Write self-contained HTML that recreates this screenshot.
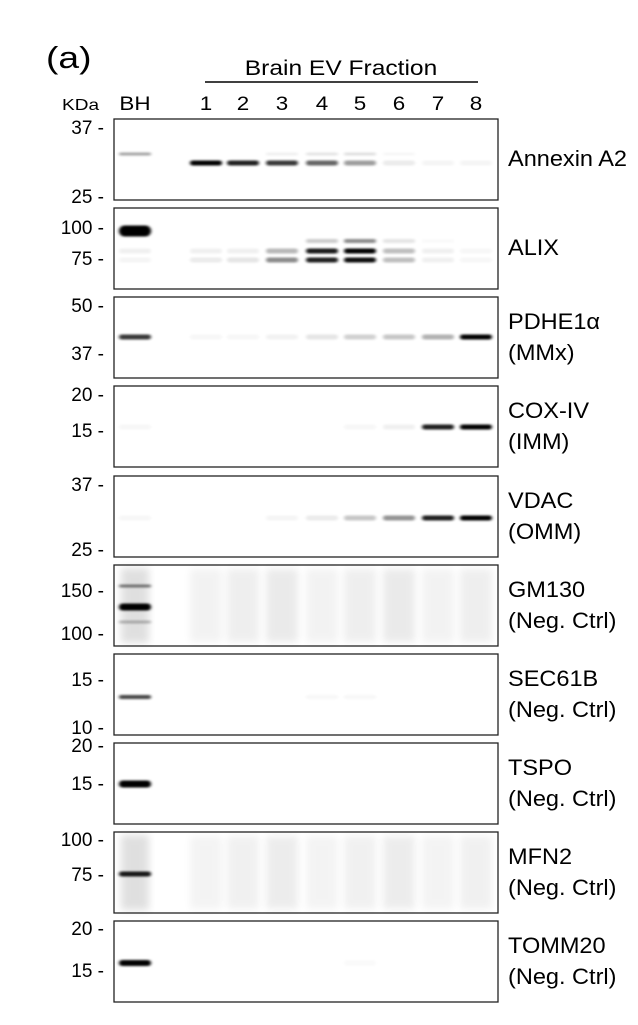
<!DOCTYPE html>
<html><head><meta charset="utf-8"><style>
html,body{margin:0;padding:0;background:#fff}
svg{display:block;font-family:"Liberation Sans",Arial,sans-serif}
</style></head><body>
<svg id="fig" width="638" height="1025" viewBox="0 0 638 1025" xmlns="http://www.w3.org/2000/svg">
<defs>
<filter id="blur" x="-50%" y="-200%" width="200%" height="500%"><feGaussianBlur stdDeviation="1.5 1.1"/></filter>
<filter id="smear" x="-20%" y="-20%" width="140%" height="140%"><feGaussianBlur stdDeviation="4"/></filter>
</defs>
<text transform="translate(46,68) scale(1.2,1)" font-size="31">(a)</text>
<text transform="translate(341,75) scale(1.17,1)" font-size="21" text-anchor="middle">Brain EV Fraction</text>
<line x1="205" y1="82" x2="478" y2="82" stroke="#000" stroke-width="1.5"/>
<text transform="translate(62,110) scale(1.19,1)" font-size="16">KDa</text>
<g id="lanes"></g>
<g id="panels"></g>
</svg>
<script>
const laneLabels = ["BH","1","2","3","4","5","6","7","8"];
const laneX = [135,206,243,282,322,360,399,438,476];
const panelNames = ["Annexin A2","ALIX","PDHE1α|(MMx)","COX-IV|(IMM)","VDAC|(OMM)","GM130|(Neg. Ctrl)","SEC61B|(Neg. Ctrl)","TSPO|(Neg. Ctrl)","MFN2|(Neg. Ctrl)","TOMM20|(Neg. Ctrl)"];
const panelTop = [119,208,297,386,476,565,654,743,832,921];
const markerLabels = [["37","25"],["100","75"],["50","37"],["20","15"],["37","25"],["150","100"],["15","10"],["20","15"],["100","75"],["20","15"]];
const markerY = [[128,197],[228,259],[306,354],[395,431],[485,550],[591,634],[680,728],[746,784],[840,875],[929,971]];
// bands: [panel, yPixel, thickness, lane intensities BH,1..8]
const bands = [
 [0,154,3,[0.35,0,0,0.06,0.1,0.12,0.03,0,0]],
 [0,163,5,[0,1,0.88,0.78,0.6,0.38,0.08,0.04,0.04]],
 [1,231,11,[1,0,0,0,0,0,0,0,0]],
 [1,241,4,[0,0,0,0,0.2,0.45,0.1,0.02,0]],
 [1,251,5,[0.06,0.06,0.06,0.28,0.9,1,0.25,0.06,0.03]],
 [1,260,5,[0.04,0.08,0.1,0.45,0.88,0.95,0.25,0.06,0.03]],
 [2,337,5,[0.78,0.03,0.03,0.05,0.1,0.18,0.22,0.3,1]],
 [3,427,5,[0.03,0,0,0,0,0.03,0.06,0.88,1]],
 [4,518,5,[0.03,0,0,0.04,0.08,0.22,0.42,0.88,1]],
 [5,586,3,[0.5,0,0,0,0,0,0,0,0]],
 [5,607,7,[1,0,0,0,0,0,0,0,0]],
 [5,622,3,[0.25,0,0,0,0,0,0,0,0]],
 [6,697,4,[0.72,0,0,0,0.03,0.03,0,0,0]],
 [7,784,7,[1,0,0,0,0,0,0,0,0]],
 [8,874,5,[0.9,0,0,0,0,0,0,0,0]],
 [9,963,6,[1,0,0,0,0,0.02,0,0,0]]
];
const smear = [0,0,0,0,0,0.08,0,0,0.07,0];
const NS="http://www.w3.org/2000/svg";
const lanesG=document.getElementById('lanes');
const panelsG=document.getElementById('panels');
const L=114,R=498,H=81;
function mk(tag,attrs,parent){const e=document.createElementNS(NS,tag);for(const k in attrs)e.setAttribute(k,attrs[k]);parent.appendChild(e);return e;}
function txt(parent,x,y,size,anchor,s,sx){const e=mk('text',{transform:`translate(${x},${y}) scale(${sx},1)`,'font-size':size,'text-anchor':anchor},parent);e.textContent=s;return e;}
laneLabels.forEach((t,i)=>{
 const e=txt(lanesG,laneX[i],110,19.5,'middle',t,1.15);
 
 
});
panelNames.forEach((nm,p)=>{
 const g=mk('g',{},panelsG);
 
 
 const top=panelTop[p];
 mk('rect',{x:L,y:top,width:R-L,height:H,fill:'#fff'},g);
 if(smear[p]>0){
  laneX.slice(1).forEach((x,i)=>{
   const r=mk('rect',{x:x-16,y:top+4,width:32,height:H-8,fill:'#000',opacity:smear[p]*(0.6+0.4*((i%3)/2)),filter:'url(#smear)'},g);
   
   
  });
  const r=mk('rect',{x:laneX[0]-14,y:top+3,width:28,height:H-6,fill:'#000',opacity:0.12,filter:'url(#smear)'},g);
  
  
 }
 bands.filter(b=>b[0]===p).forEach(b=>{
  b[3].forEach((v,i)=>{
   if(v<=0)return;
   const w=32;
   const e=mk('rect',{x:laneX[i]-w/2,y:b[1]-b[2]/2,width:w,height:b[2],rx:b[2]/2,fill:'#000',opacity:Math.min(1,v),filter:'url(#blur)'},g);
   
   
  });
 });
 mk('rect',{x:L,y:top,width:R-L,height:H,fill:'none',stroke:'#222','stroke-width':1.3},g);
 markerLabels[p].forEach((m,k)=>{
  const t=txt(g,104,markerY[p][k]+6,19,'end',m+' -',1.0);
  
  
 });
 const parts=nm.split('|');
 const ys=parts.length===1?[top+47]:[top+32,top+63];
 parts.forEach((s,k)=>{
  const t=txt(g,508,ys[k],22,'start',s,1.07);
  
  
 });
});
</script>
</body></html>
